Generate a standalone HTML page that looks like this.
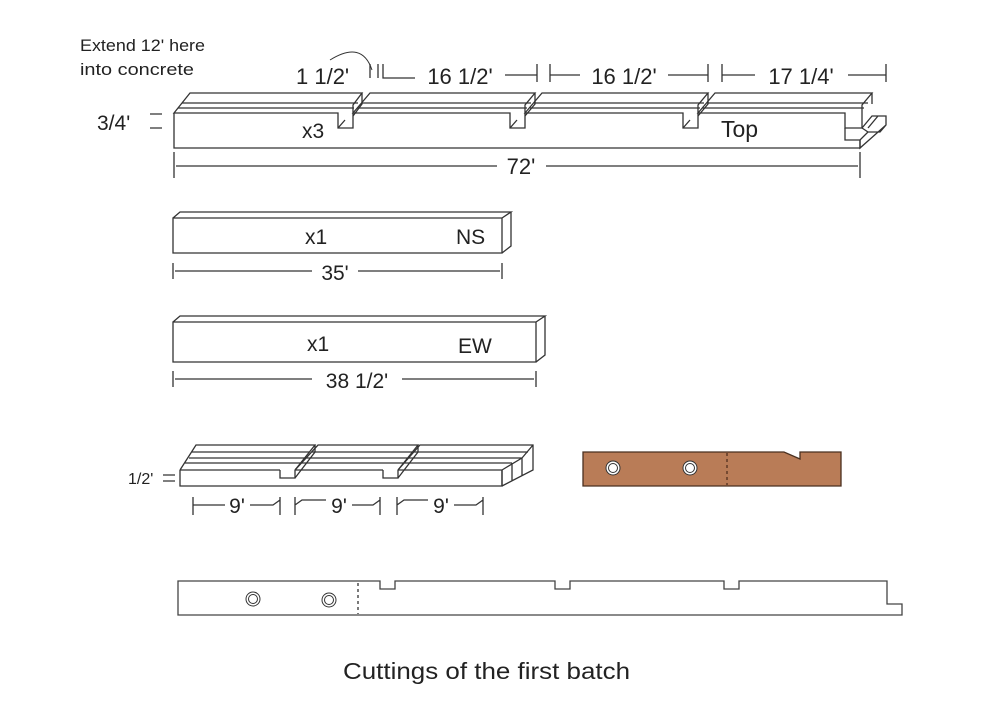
<!DOCTYPE html>
<html><head><meta charset="utf-8"><style>
body{margin:0;background:#fff}
svg{display:block}
text{font-family:"Liberation Sans",sans-serif;fill:#222}
</style></head><body>
<svg width="1000" height="723" viewBox="0 0 1000 723" xmlns="http://www.w3.org/2000/svg">
<g fill="none" stroke="#333" stroke-width="1.3">
<path d="M174,113 V148 H860 V140"/>
<path d="M174,113 L190,93 H362 L353,105 V128 H338 V113 Z"/>
<path d="M182,103 H358 M178,108 H354"/>
<path d="M362,93 V104 L353,116 M338,128 L345,120"/>
<path d="M353,113 L370,93 H535 L525,105 V128 H510 V113 Z"/>
<path d="M362,103 H531 M357,108 H527 M535,93 V104 L525,116 M510,128 L517,120"/>
<path d="M525,113 L542,93 H708 L698,105 V128 H683 V113 Z"/>
<path d="M534,103 H704 M530,108 H700 M708,93 V104 L698,116 M683,128 L690,120"/>
<path d="M698,113 L715,93 H872 L862,105 V128 H845 V113 Z"/>
<path d="M707,103 H868 M702,108 H864 M872,93 V104"/>
<path d="M845,128 V140 H860 L868,132 M860,140 V148 L886,125 V116 H872 L862,128 M862,128 L868,132 H880 L886,125 M878,116 L868,128"/>
<path d="M370,64 V78 M378,64 V78 M383,64 V78 H415 M505,75 H537 M537,64 V82 M550,64 V82 M550,75 H580 M668,75 H708 M708,64 V82 M722,64 V82 M722,75 H755 M848,75 H886 M886,64 V82"/>
<path d="M330,60 Q362,40 372,70" stroke-width="1"/>
<path d="M150,114 H162 M150,128 H162"/>
<path d="M174,152 V178 M860,152 V178 M176,166 H497 M546,166 H858"/>
<path d="M173,218 H502 V253 H173 Z M173,218 L180,212 H511 L502,218 M511,212 V246 L502,253"/>
<path d="M173,263 V279 M502,263 V279 M175,271 H312 M358,271 H500"/>
<path d="M173,322 H536 V362 H173 Z M173,322 L180,316 H545 L536,322 M545,316 V355 L536,362"/>
<path d="M173,371 V387 M536,371 V387 M175,379 H312 M402,379 H534"/>
<path d="M180,470 V486 H502 V470 M180,470 L196,445 H315 L295,470 M280,470 H180"/>
<path d="M189,458 H307 M185,463 H302 M192,452 H310"/>
<path d="M280,470 V478 H295 V470 M315,445 V452 L295,478"/>
<path d="M295,470 L318,445 H418 L398,470 M383,470 V478 H398 V470 M383,470 H295 M418,445 V452 L398,478 M307,458 H410 M302,463 H405 M312,452 H414"/>
<path d="M398,470 L420,445 H533 V470 L502,486 M398,470 H502 M410,458 H522 M405,463 H512 M414,452 H528 M502,470 V486 M502,470 L522,458 V476 M512,463 L512,481 M522,458 L533,445"/>
<path d="M163,475 H175 M163,481 H175"/>
<path d="M193,497 V515 M193,505 H225 M250,505 H273 L280,500 M280,497 V515 M295,497 V515 M295,505 L302,500 H326 M352,505 H373 L380,500 M380,497 V515 M397,497 V515 M397,505 L404,500 H428 M454,505 H476 L483,500 M483,497 V515"/>
<path d="M178,581 H380 V589 H395 V581 H555 V589 H570 V581 H724 V589 H739 V581 H887 V604 H902 V615 H178 Z" stroke="#444"/>
<path d="M358,583 V614" stroke-dasharray="3,3"/>
</g>
<path d="M583,452 H784 L800,459 V452 H841 V486 H583 Z" fill="#b97c57" stroke="#4a3020" stroke-width="1.3"/>
<path d="M727,453 V485" stroke="#4a2a1a" stroke-width="1.2" stroke-dasharray="3,3"/>
<g stroke="#333" stroke-width="1" fill="#fff">
<circle cx="613" cy="468" r="7"/><circle cx="613" cy="468" r="4.5" fill="none"/>
<circle cx="690" cy="468" r="7"/><circle cx="690" cy="468" r="4.5" fill="none"/>
<circle cx="253" cy="599" r="7"/><circle cx="253" cy="599" r="4.5"/>
<circle cx="329" cy="600" r="7"/><circle cx="329" cy="600" r="4.5"/>
</g>
<text x="80" y="51" font-size="17" textLength="125" lengthAdjust="spacingAndGlyphs">Extend 12' here</text>
<text x="80" y="75" font-size="17" textLength="114" lengthAdjust="spacingAndGlyphs">into concrete</text>
<text x="296" y="84" font-size="22">1 1/2'</text>
<text x="460" y="84" font-size="22" text-anchor="middle">16 1/2'</text>
<text x="624" y="84" font-size="22" text-anchor="middle">16 1/2'</text>
<text x="801" y="84" font-size="22" text-anchor="middle">17 1/4'</text>
<text x="97" y="130" font-size="21">3/4'</text>
<text x="302" y="138" font-size="21">x3</text>
<text x="721" y="137" font-size="23">Top</text>
<text x="521" y="174" font-size="22" text-anchor="middle">72'</text>
<text x="305" y="244" font-size="21">x1</text>
<text x="456" y="244" font-size="21">NS</text>
<text x="335" y="280" font-size="21" text-anchor="middle">35'</text>
<text x="307" y="351" font-size="21">x1</text>
<text x="458" y="353" font-size="21">EW</text>
<text x="357" y="388" font-size="21" text-anchor="middle">38 1/2'</text>
<text x="128" y="484" font-size="16">1/2'</text>
<text x="237" y="513" font-size="21" text-anchor="middle">9'</text>
<text x="339" y="513" font-size="21" text-anchor="middle">9'</text>
<text x="441" y="513" font-size="21" text-anchor="middle">9'</text>
<text x="343" y="679" font-size="23" textLength="287" lengthAdjust="spacingAndGlyphs">Cuttings of the first batch</text>
</svg>
</body></html>
